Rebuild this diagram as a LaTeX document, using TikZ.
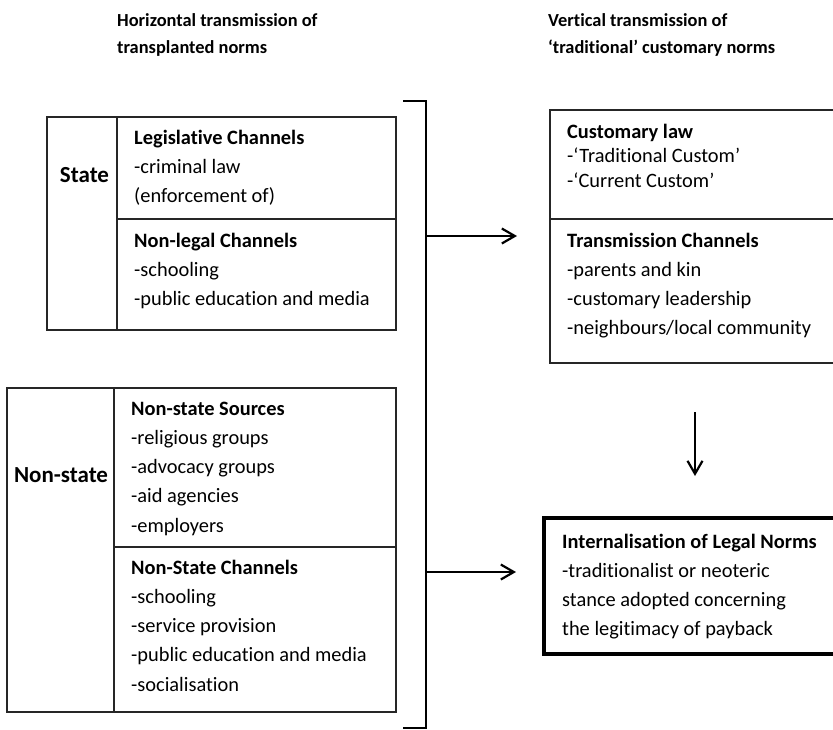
\documentclass[tikz,border=0pt]{standalone}
\usepackage{fontspec}
\setmainfont{Carlito}[Ligatures={NoCommon}]
\usetikzlibrary{arrows.meta}
\tikzset{
  thinbox/.style={draw=black!85, line width=1.6pt},
  thickbox/.style={draw=black, line width=4.5pt},
  conn/.style={draw=black, line width=2pt},
  arr/.style={conn, -{Straight Barb[length=13pt,width=15pt,line width=2.2pt]}},
  txt/.style={anchor=base west, inner sep=0pt, font=\fontsize{20.4}{29.3}\selectfont},
  ttl/.style={anchor=base west, inner sep=0pt, font=\fontsize{18.4}{27}\selectfont\bfseries},
  lbl/.style={anchor=base, inner sep=0pt, font=\fontsize{23}{27}\selectfont\bfseries}
}
\newcommand{\lines}[1]{\begin{tabular}[t]{@{}l@{}}#1\end{tabular}}
\begin{document}
\begin{tikzpicture}[x=1pt,y=-1pt]
\useasboundingbox (0,0) rectangle (833,729);
% titles
\node[ttl] (t1) at (117,26) {\lines{Horizontal transmission of\\transplanted norms}};
\node[ttl] (t2) at (548,26) {\lines{Vertical transmission of\\‘traditional’ customary norms}};
% State box
\draw[thinbox] (47,117) rectangle (396,330);
\draw[thinbox] (117,117) -- (117,330);
\draw[thinbox] (117,219) -- (396,219);
\node[lbl] (state) at (84.5,182) {State};
\node[txt] (leg) at (134,144) {\lines{\textbf{Legislative Channels}\\-criminal law\\(enforcement of)}};
\node[txt] (nonleg) at (134,247) {\lines{\textbf{Non-legal Channels}\\-schooling\\-public education and media}};
% Non-state box
\draw[thinbox] (7,388) rectangle (396,712);
\draw[thinbox] (114,388) -- (114,712);
\draw[thinbox] (114,547) -- (396,547);
\node[lbl] (nonstate) at (61,482) {Non-state};
\node[txt] (nss) at (131,415) {\lines{\textbf{Non-state Sources}\\-religious groups\\-advocacy groups\\-aid agencies\\-employers}};
\node[txt] (nsc) at (131,574) {\lines{\textbf{Non-State Channels}\\-schooling\\-service provision\\-public education and media\\-socialisation}};
% bracket
\coordinate (bt) at (403,101);
\coordinate (bb) at (403,728);
\draw[conn] (bt) -- (426,101) -- (426,728) -- (bb);
\coordinate (b1) at (426,236);
\coordinate (b2) at (426,572);
% right top box
\draw[thinbox] (550,110) rectangle (840,363);
\draw[thinbox] (550,219) -- (840,219);
\node[txt, font=\fontsize{20.4}{24.5}\selectfont] (cust) at (567,138) {\lines{\textbf{Customary law}\\-‘Traditional Custom’\\-‘Current Custom’}};
\node[txt] (trans) at (567,247) {\lines{\textbf{Transmission Channels}\\-parents and kin\\-customary leadership\\-neighbours/local community}};
% right bottom box
\draw[thickbox] (544,518) rectangle (845,654);
\node[txt] (intern) at (562,548) {\lines{\textbf{Internalisation of Legal Norms}\\-traditionalist or neoteric\\stance adopted concerning\\the legitimacy of payback}};
% arrows
\coordinate (a1) at (517,236);
\coordinate (a2) at (516,572);
\coordinate (d1) at (695,412);
\coordinate (d2) at (695,476);
\draw[arr] (b1) -- (a1);
\draw[arr] (b2) -- (a2);
\draw[arr] (d1) -- (d2);
\end{tikzpicture}
\end{document}
